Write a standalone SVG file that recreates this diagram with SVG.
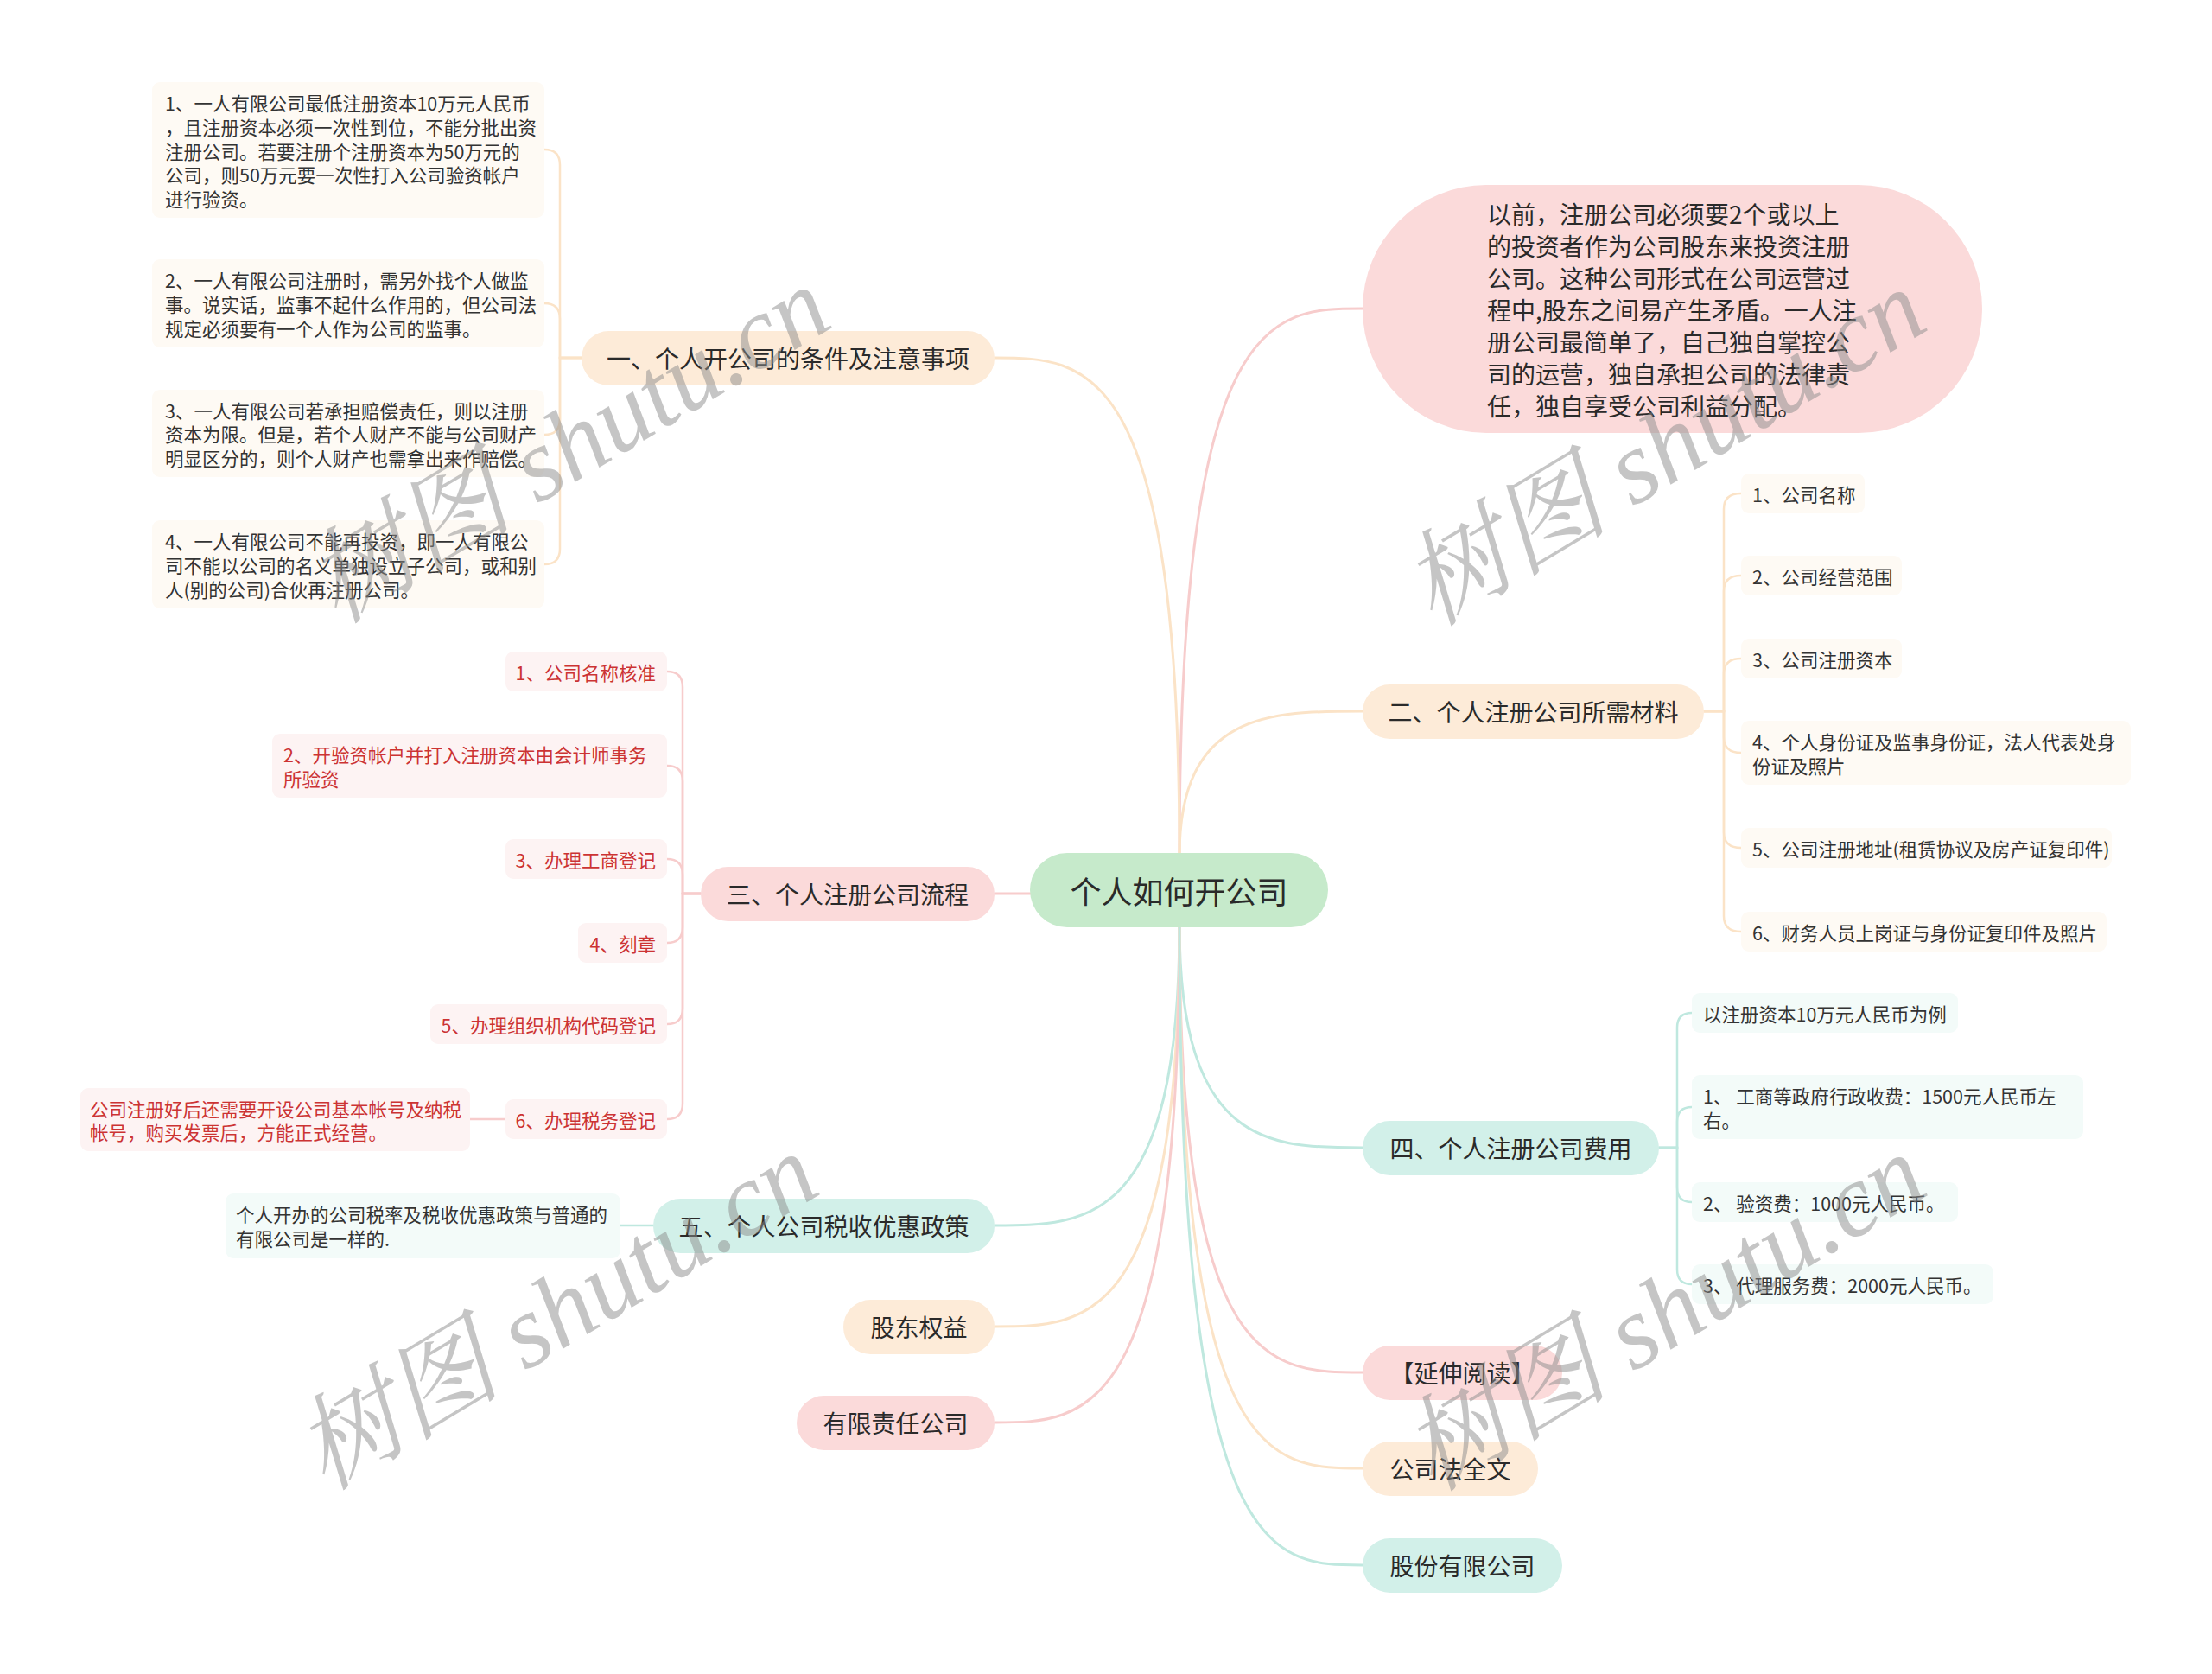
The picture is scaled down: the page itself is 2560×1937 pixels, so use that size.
<svg xmlns="http://www.w3.org/2000/svg" width="2560" height="1937" viewBox="0 0 2560 1937">
<style>
text{font-family:"Noto Sans CJK SC","Noto Sans",sans-serif;dominant-baseline:central}
.c{fill:none;stroke-width:3;stroke-linecap:round}
.s{fill:none;stroke-width:2.5;stroke-linecap:round}
.pe{stroke:#fbe3c7}.pk{stroke:#f7cccc}.mt{stroke:#bfe8df}
.fpe{fill:#fdebd8}.fpk{fill:#fbdada}.fmt{fill:#d2f0e9}
.lpe{fill:#fefaf4}.lpk{fill:#fdf3f3}.lmt{fill:#f3fbf9}
.bt{font-size:28px;fill:#2a2a2a;text-anchor:middle}
.lt{font-size:21.5px;fill:#333}
.rt{font-size:21.5px;fill:#cc3333}
.wm{font-family:"Liberation Serif","Noto Serif CJK SC","Noto Sans CJK SC",serif;font-style:italic;font-size:120px;fill:#8c8c8c;fill-opacity:0.5;text-anchor:middle}
</style>
<rect width="2560" height="1937" fill="#ffffff"/>
<g id="connectors">
<path class="c pk" d="M1365 990 C1365 357,1471 357,1577 357"/>
<path class="c pe" d="M1365 990 C1365 414,1258 414,1151 414"/>
<path class="c pe" d="M1365 990 C1365 823,1471 823,1577 823"/>
<path class="c pk" d="M1151 1034 L1195 1034"/>
<path class="c mt" d="M1365 1070 C1365 1328,1471 1328,1577 1328"/>
<path class="c mt" d="M1365 1070 C1365 1418,1258 1418,1151 1418"/>
<path class="c pe" d="M1365 1070 C1365 1535,1258 1535,1151 1535"/>
<path class="c pk" d="M1365 1070 C1365 1646,1258 1646,1151 1646"/>
<path class="c pk" d="M1365 1070 C1365 1588,1471 1588,1577 1588"/>
<path class="c pe" d="M1365 1070 C1365 1699,1471 1699,1577 1699"/>
<path class="c mt" d="M1365 1070 C1365 1811,1471 1811,1577 1811"/>
<path class="s pe" d="M673 414 H648 V191 Q648 173 630 173"/>
<path class="s pe" d="M673 414 H648 V369 Q648 351 630 351"/>
<path class="s pe" d="M673 414 H648 V485 Q648 503 630 503"/>
<path class="s pe" d="M673 414 H648 V635 Q648 653 630 653"/>
<path class="s pe" d="M1972 823 H1995 V589 Q1995 571 2015 571"/>
<path class="s pe" d="M1972 823 H1995 V684 Q1995 666 2015 666"/>
<path class="s pe" d="M1972 823 H1995 V780 Q1995 762 2015 762"/>
<path class="s pe" d="M1972 823 H1995 V853 Q1995 871 2015 871"/>
<path class="s pe" d="M1972 823 H1995 V963 Q1995 981 2015 981"/>
<path class="s pe" d="M1972 823 H1995 V1060 Q1995 1078 2015 1078"/>
<path class="s pk" d="M811 1034 H790 V795 Q790 777 772 777"/>
<path class="s pk" d="M811 1034 H790 V904 Q790 886 772 886"/>
<path class="s pk" d="M811 1034 H790 V1012 Q790 994 772 994"/>
<path class="s pk" d="M811 1034 H790 V1073 Q790 1091 772 1091"/>
<path class="s pk" d="M811 1034 H790 V1167 Q790 1185 772 1185"/>
<path class="s pk" d="M811 1034 H790 V1277 Q790 1295 772 1295"/>
<path class="s pk" d="M585 1295 H544"/>
<path class="s mt" d="M1920 1328 H1941 V1189 Q1941 1172 1958 1172"/>
<path class="s mt" d="M1920 1328 H1941 V1298 Q1941 1281 1958 1281"/>
<path class="s mt" d="M1920 1328 H1941 V1374 Q1941 1391 1958 1391"/>
<path class="s mt" d="M1920 1328 H1941 V1469 Q1941 1486 1958 1486"/>
<path class="s mt" d="M756 1418 H718"/>
</g>
<g id="root">
<rect x="1192" y="987" width="345" height="86" rx="43" fill="#c6eacb"/>
<text x="1364.5" y="1030" style="font-size:36px;fill:#2a2a2a;text-anchor:middle">个人如何开公司</text>
</g>
<g id="intro">
<rect x="1577" y="214" width="717" height="287" rx="143" class="fpk"/>
<text class="lt" style="font-size:28px;fill:#2a2a2a" x="1721"><tspan x="1721" y="247">以前，注册公司必须要2个或以上</tspan><tspan x="1721" y="284">的投资者作为公司股东来投资注册</tspan><tspan x="1721" y="321">公司。这种公司形式在公司运营过</tspan><tspan x="1721" y="358">程中,股东之间易产生矛盾。一人注</tspan><tspan x="1721" y="395">册公司最简单了，自己独自掌控公</tspan><tspan x="1721" y="432">司的运营，独自承担公司的法律责</tspan><tspan x="1721" y="469">任，独自享受公司利益分配。</tspan></text>
</g>
<g id="b1">
<rect x="673" y="383" width="478" height="63" rx="31.5" class="fpe"/>
<text class="bt" x="912" y="414">一、个人开公司的条件及注意事项</text>
</g>
<g id="b1-1">
<rect x="176" y="95" width="454" height="157" rx="9" class="lpe"/>
<text class="lt"><tspan x="191" y="118">1、一人有限公司最低注册资本10万元人民币</tspan><tspan x="191" y="146">，且注册资本必须一次性到位，不能分批出资</tspan><tspan x="191" y="174">注册公司。若要注册个注册资本为50万元的</tspan><tspan x="191" y="201">公司，则50万元要一次性打入公司验资帐户</tspan><tspan x="191" y="229">进行验资。</tspan></text>
</g>
<g id="b1-2">
<rect x="176" y="300" width="454" height="102" rx="9" class="lpe"/>
<text class="lt"><tspan x="191" y="323">2、一人有限公司注册时，需另外找个人做监</tspan><tspan x="191" y="351">事。说实话，监事不起什么作用的，但公司法</tspan><tspan x="191" y="379">规定必须要有一个人作为公司的监事。</tspan></text>
</g>
<g id="b1-3">
<rect x="176" y="451" width="454" height="101" rx="9" class="lpe"/>
<text class="lt"><tspan x="191" y="474">3、一人有限公司若承担赔偿责任，则以注册</tspan><tspan x="191" y="501">资本为限。但是，若个人财产不能与公司财产</tspan><tspan x="191" y="529">明显区分的，则个人财产也需拿出来作赔偿。</tspan></text>
</g>
<g id="b1-4">
<rect x="176" y="602" width="454" height="102" rx="9" class="lpe"/>
<text class="lt"><tspan x="191" y="625">4、一人有限公司不能再投资，即一人有限公</tspan><tspan x="191" y="653">司不能以公司的名义单独设立子公司，或和别</tspan><tspan x="191" y="681">人(别的公司)合伙再注册公司。</tspan></text>
</g>
<g id="b2">
<rect x="1577" y="792" width="395" height="63" rx="31.5" class="fpe"/>
<text class="bt" x="1774.5" y="823">二、个人注册公司所需材料</text>
</g>
<g id="b2-1"><rect x="2015" y="548" width="143" height="46" rx="9" class="lpe"/><text class="lt" x="2028" y="571">1、公司名称</text></g>
<g id="b2-2"><rect x="2015" y="643" width="186" height="46" rx="9" class="lpe"/><text class="lt" x="2028" y="666">2、公司经营范围</text></g>
<g id="b2-3"><rect x="2015" y="739" width="186" height="46" rx="9" class="lpe"/><text class="lt" x="2028" y="762">3、公司注册资本</text></g>
<g id="b2-4"><rect x="2015" y="834" width="451" height="74" rx="9" class="lpe"/><text class="lt"><tspan x="2028" y="857">4、个人身份证及监事身份证，法人代表处身</tspan><tspan x="2028" y="885">份证及照片</tspan></text></g>
<g id="b2-5"><rect x="2015" y="958" width="429" height="46" rx="9" class="lpe"/><text class="lt" x="2028" y="981">5、公司注册地址(租赁协议及房产证复印件)</text></g>
<g id="b2-6"><rect x="2015" y="1055" width="423" height="46" rx="9" class="lpe"/><text class="lt" x="2028" y="1078">6、财务人员上岗证与身份证复印件及照片</text></g>
<g id="b3">
<rect x="811" y="1003" width="340" height="63" rx="31.5" class="fpk"/>
<text class="bt" x="981" y="1034">三、个人注册公司流程</text>
</g>
<g id="b3-1"><rect x="585" y="754" width="187" height="46" rx="9" class="lpk"/><text class="rt" x="759" y="777" text-anchor="end">1、公司名称核准</text></g>
<g id="b3-2"><rect x="315" y="849" width="457" height="74" rx="9" class="lpk"/><text class="rt"><tspan x="328" y="872">2、开验资帐户并打入注册资本由会计师事务</tspan><tspan x="328" y="900">所验资</tspan></text></g>
<g id="b3-3"><rect x="585" y="971" width="187" height="46" rx="9" class="lpk"/><text class="rt" x="759" y="994" text-anchor="end">3、办理工商登记</text></g>
<g id="b3-4"><rect x="669" y="1068" width="103" height="46" rx="9" class="lpk"/><text class="rt" x="759" y="1091" text-anchor="end">4、刻章</text></g>
<g id="b3-5"><rect x="498" y="1162" width="274" height="46" rx="9" class="lpk"/><text class="rt" x="759" y="1185" text-anchor="end">5、办理组织机构代码登记</text></g>
<g id="b3-6"><rect x="585" y="1272" width="187" height="46" rx="9" class="lpk"/><text class="rt" x="759" y="1295" text-anchor="end">6、办理税务登记</text></g>
<g id="b3-6-1"><rect x="93" y="1259" width="451" height="73" rx="9" class="lpk"/><text class="rt"><tspan x="104" y="1282">公司注册好后还需要开设公司基本帐号及纳税</tspan><tspan x="104" y="1309">帐号，购买发票后，方能正式经营。</tspan></text></g>
<g id="b4">
<rect x="1577" y="1297" width="343" height="63" rx="31.5" class="fmt"/>
<text class="bt" x="1748.5" y="1328">四、个人注册公司费用</text>
</g>
<g id="b4-1"><rect x="1958" y="1149" width="308" height="46" rx="9" class="lmt"/><text class="lt" x="1971" y="1172">以注册资本10万元人民币为例</text></g>
<g id="b4-2"><rect x="1958" y="1244" width="453" height="74" rx="9" class="lmt"/><text class="lt"><tspan x="1971" y="1267">1、 工商等政府行政收费：1500元人民币左</tspan><tspan x="1971" y="1295">右。</tspan></text></g>
<g id="b4-3"><rect x="1958" y="1368" width="308" height="46" rx="9" class="lmt"/><text class="lt" x="1971" y="1391">2、 验资费：1000元人民币。</text></g>
<g id="b4-4"><rect x="1958" y="1463" width="349" height="46" rx="9" class="lmt"/><text class="lt" x="1971" y="1486">3、 代理服务费：2000元人民币。</text></g>
<g id="b5">
<rect x="756" y="1387" width="395" height="63" rx="31.5" class="fmt"/>
<text class="bt" x="953.5" y="1418">五、个人公司税收优惠政策</text>
</g>
<g id="b5-1"><rect x="261" y="1381" width="457" height="75" rx="9" class="lmt"/><text class="lt"><tspan x="273" y="1404">个人开办的公司税率及税收优惠政策与普通的</tspan><tspan x="273" y="1432">有限公司是一样的.</tspan></text></g>
<g id="b6"><rect x="976" y="1504" width="175" height="63" rx="31.5" class="fpe"/><text class="bt" x="1063.5" y="1535">股东权益</text></g>
<g id="b7"><rect x="922" y="1615" width="229" height="63" rx="31.5" class="fpk"/><text class="bt" x="1036.5" y="1646">有限责任公司</text></g>
<g id="b8"><rect x="1577" y="1557" width="231" height="63" rx="31.5" class="fpk"/><text class="bt" x="1692.5" y="1588">【延伸阅读】</text></g>
<g id="b9"><rect x="1577" y="1668" width="203" height="63" rx="31.5" class="fpe"/><text class="bt" x="1678.5" y="1699">公司法全文</text></g>
<g id="b10"><rect x="1577" y="1780" width="231" height="63" rx="31.5" class="fmt"/><text class="bt" x="1692.5" y="1811">股份有限公司</text></g>
<g id="watermarks">
<text class="wm" x="658" y="515" transform="rotate(-31 658 515)">树图 shutu.cn</text>
<text class="wm" x="1926" y="518" transform="rotate(-31 1926 518)">树图 shutu.cn</text>
<text class="wm" x="644" y="1518" transform="rotate(-31 644 1518)">树图 shutu.cn</text>
<text class="wm" x="1926" y="1519" transform="rotate(-31 1926 1519)">树图 shutu.cn</text>
</g>
</svg>
